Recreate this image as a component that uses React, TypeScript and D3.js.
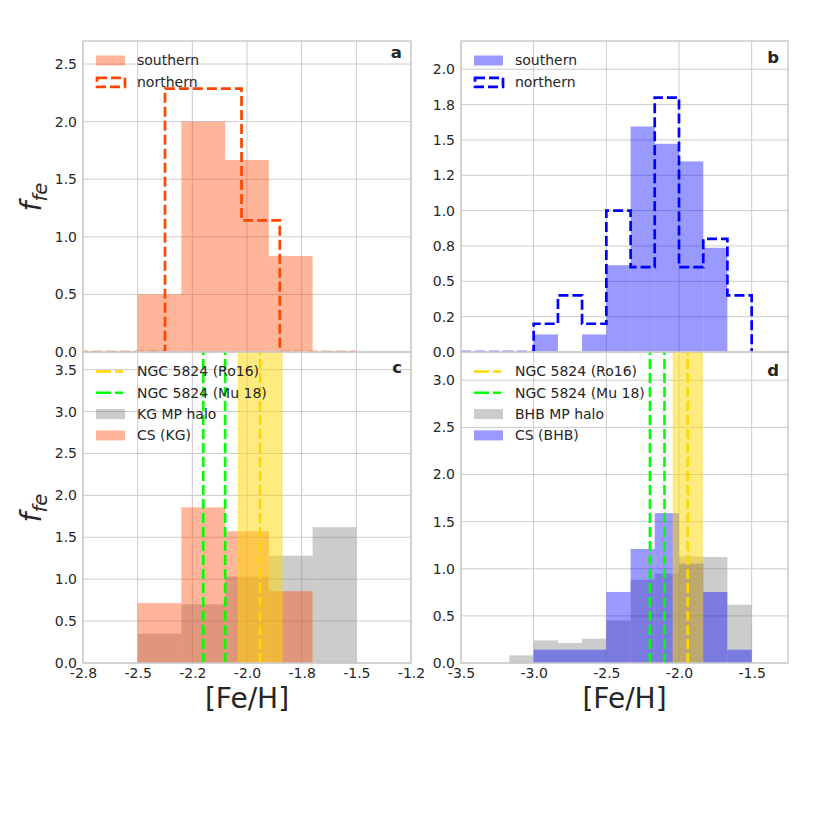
import { useEffect, useRef } from 'react';
import * as d3 from 'd3';

// --- KG (panels a, c) ---
const KG_EDGES = [-2.5, -2.3, -2.1, -1.9, -1.7, -1.5];
const SOUTHERN_KG = [0.5, 2.0, 1.667, 0.833, 0];
const CS_KG = [0.714, 1.857, 1.571, 0.857, 0];
const HALO_KG = [0.35, 0.7, 1.03, 1.28, 1.62];
const NORTHERN_KG_EDGES = [-2.9, -2.725, -2.55, -2.375, -2.2, -2.025, -1.85, -1.675, -1.5];
const NORTHERN_KG = [0, 0, 0, 2.286, 2.286, 1.143, 0, 0];

// --- BHB (panels b, d) ---
const BHB_EDGES = [-3.5, -3.333, -3.167, -3.0, -2.833, -2.667, -2.5, -2.333, -2.167, -2.0, -1.833, -1.667, -1.5];
const SOUTHERN_BHB = [0, 0, 0, 0.124, 0, 0.124, 0.614, 1.595, 1.473, 1.348, 0.737, 0];
const NORTHERN_BHB = [0, 0, 0, 0.2, 0.4, 0.2, 1.0, 0.6, 1.8, 0.6, 0.8, 0.4];
const CS_BHB = [0, 0, 0, 0.141, 0.141, 0.141, 0.754, 1.21, 1.59, 1.054, 0.754, 0.141];
const HALO_BHB = [0, 0, 0.081, 0.24, 0.212, 0.258, 0.452, 0.884, 0.948, 1.132, 1.125, 0.619];

// NGC 5824 metallicities
const RO16 = -1.94;
const RO16_ERR = 0.1;
const MU18 = [-2.2, -2.1];

// ticks
const KG_X_TICKS = [-2.75, -2.5, -2.25, -2.0, -1.75, -1.5, -1.25];
const KG_X_LABELS = ['-2.8', '-2.5', '-2.2', '-2.0', '-1.8', '-1.5', '-1.2'];
const BHB_X_TICKS = [-3.5, -3.0, -2.5, -2.0, -1.5];
const BHB_X_LABELS = ['-3.5', '-3.0', '-2.5', '-2.0', '-1.5'];
const A_Y_TICKS = [0, 0.5, 1.0, 1.5, 2.0, 2.5];
const A_Y_LABELS = ['0.0', '0.5', '1.0', '1.5', '2.0', '2.5'];
const B_Y_TICKS = [0, 0.25, 0.5, 0.75, 1.0, 1.25, 1.5, 1.75, 2.0];
const B_Y_LABELS = ['0.0', '0.2', '0.5', '0.8', '1.0', '1.2', '1.5', '1.8', '2.0'];
const C_Y_TICKS = [0, 0.5, 1.0, 1.5, 2.0, 2.5, 3.0, 3.5];
const C_Y_LABELS = ['0.0', '0.5', '1.0', '1.5', '2.0', '2.5', '3.0', '3.5'];
const D_Y_TICKS = [0, 0.5, 1.0, 1.5, 2.0, 2.5, 3.0];
const D_Y_LABELS = ['0.0', '0.5', '1.0', '1.5', '2.0', '2.5', '3.0'];

const FONT = '"DejaVu Sans", sans-serif';
const TEXT = '#262626';
const GRID = '#cccccc';
const ORANGE = 'rgba(255,69,0,0.4)';
const BLUE = 'rgba(0,0,255,0.4)';
const GREY = 'rgba(128,128,128,0.4)';
const GOLD_BAND = 'rgba(255,215,0,0.5)';
const TICK_SIZE = 14;

type Scale = d3.ScaleLinear<number, number>;
type G = d3.Selection<SVGGElement, unknown, null, undefined>;

interface LegendItem {
  kind: 'patch' | 'step' | 'line';
  color: string;
  label: string;
}

interface Panel {
  id: string;
  left: number;
  top: number;
  width: number;
  height: number;
  xDomain: [number, number];
  yMax: number;
  xTicks: number[];
  xLabels: string[] | null;
  yTicks: number[];
  yLabels: string[];
  letter: string;
  letterY: number;
  legend: LegendItem[];
  draw: (g: G, x: Scale, y: Scale) => void;
}

function bars(g: G, x: Scale, y: Scale, edges: number[], vals: number[], fill: string) {
  const bins = vals.map((v, i) => ({ x0: edges[i], x1: edges[i + 1], v })).filter((b) => b.v > 0);
  g.append('g')
    .selectAll('rect')
    .data(bins)
    .join('rect')
    .attr('x', (d) => x(d.x0))
    .attr('y', (d) => y(d.v))
    .attr('width', (d) => x(d.x1) - x(d.x0))
    .attr('height', (d) => y(0) - y(d.v))
    .attr('fill', fill);
}

function step(g: G, x: Scale, y: Scale, edges: number[], vals: number[], stroke: string) {
  const pts: [number, number][] = [[edges[0], 0]];
  vals.forEach((v, i) => {
    pts.push([edges[i], v]);
    pts.push([edges[i + 1], v]);
  });
  pts.push([edges[edges.length - 1], 0]);
  const line = d3
    .line<[number, number]>()
    .x((d) => x(d[0]))
    .y((d) => y(d[1]));
  g.append('path')
    .attr('d', line(pts))
    .attr('fill', 'none')
    .attr('stroke', stroke)
    .attr('stroke-width', 2.7)
    .attr('stroke-dasharray', '10,4');
}

function ngc(g: G, x: Scale, y: Scale) {
  g.append('rect')
    .attr('x', x(RO16 - RO16_ERR))
    .attr('y', y.range()[1])
    .attr('width', x(RO16 + RO16_ERR) - x(RO16 - RO16_ERR))
    .attr('height', y.range()[0] - y.range()[1])
    .attr('fill', GOLD_BAND)
    .attr('stroke', GOLD_BAND)
    .attr('stroke-width', 1);
  const vline = (v: number, color: string) =>
    g.append('line')
      .attr('x1', x(v))
      .attr('x2', x(v))
      .attr('y1', y.range()[0])
      .attr('y2', y.range()[1])
      .attr('stroke', color)
      .attr('stroke-width', 2.6)
      .attr('stroke-dasharray', '10,4');
  MU18.forEach((v) => vline(v, '#00ff00'));
  vline(RO16, '#ffd700');
}

const PANELS: Panel[] = [
  {
    id: 'a', left: 83, top: 41, width: 328, height: 311,
    xDomain: [-2.75, -1.25], yMax: 2.7,
    xTicks: KG_X_TICKS, xLabels: null, yTicks: A_Y_TICKS, yLabels: A_Y_LABELS,
    letter: 'a', letterY: 57.5,
    legend: [
      { kind: 'patch', color: ORANGE, label: 'southern' },
      { kind: 'step', color: '#ff4500', label: 'northern' },
    ],
    draw: (g, x, y) => {
      bars(g, x, y, KG_EDGES, SOUTHERN_KG, ORANGE);
      step(g, x, y, NORTHERN_KG_EDGES, NORTHERN_KG, '#ff4500');
    },
  },
  {
    id: 'b', left: 461, top: 41, width: 327, height: 311,
    xDomain: [-3.5, -1.25], yMax: 2.2,
    xTicks: BHB_X_TICKS, xLabels: null, yTicks: B_Y_TICKS, yLabels: B_Y_LABELS,
    letter: 'b', letterY: 62.5,
    legend: [
      { kind: 'patch', color: BLUE, label: 'southern' },
      { kind: 'step', color: '#0000ff', label: 'northern' },
    ],
    draw: (g, x, y) => {
      bars(g, x, y, BHB_EDGES, SOUTHERN_BHB, BLUE);
      step(g, x, y, BHB_EDGES, NORTHERN_BHB, '#0000ff');
    },
  },
  {
    id: 'c', left: 83, top: 352, width: 328, height: 311,
    xDomain: [-2.75, -1.25], yMax: 3.71,
    xTicks: KG_X_TICKS, xLabels: KG_X_LABELS, yTicks: C_Y_TICKS, yLabels: C_Y_LABELS,
    letter: 'c', letterY: 373,
    legend: [
      { kind: 'line', color: '#ffd700', label: 'NGC 5824 (Ro16)' },
      { kind: 'line', color: '#00ff00', label: 'NGC 5824 (Mu 18)' },
      { kind: 'patch', color: GREY, label: 'KG MP halo' },
      { kind: 'patch', color: ORANGE, label: 'CS (KG)' },
    ],
    draw: (g, x, y) => {
      bars(g, x, y, KG_EDGES, HALO_KG, GREY);
      bars(g, x, y, KG_EDGES, CS_KG, ORANGE);
      ngc(g, x, y);
    },
  },
  {
    id: 'd', left: 461, top: 352, width: 327, height: 311,
    xDomain: [-3.5, -1.25], yMax: 3.3,
    xTicks: BHB_X_TICKS, xLabels: BHB_X_LABELS, yTicks: D_Y_TICKS, yLabels: D_Y_LABELS,
    letter: 'd', letterY: 375.5,
    legend: [
      { kind: 'line', color: '#ffd700', label: 'NGC 5824 (Ro16)' },
      { kind: 'line', color: '#00ff00', label: 'NGC 5824 (Mu 18)' },
      { kind: 'patch', color: GREY, label: 'BHB MP halo' },
      { kind: 'patch', color: BLUE, label: 'CS (BHB)' },
    ],
    draw: (g, x, y) => {
      bars(g, x, y, BHB_EDGES, HALO_BHB, GREY);
      bars(g, x, y, BHB_EDGES, CS_BHB, BLUE);
      ngc(g, x, y);
    },
  },
];

function drawPanel(svg: d3.Selection<SVGSVGElement, unknown, null, undefined>, p: Panel) {
  const x = d3.scaleLinear().domain(p.xDomain).range([p.left, p.left + p.width]);
  const y = d3.scaleLinear().domain([0, p.yMax]).range([p.top + p.height, p.top]);

  svg.append('clipPath')
    .attr('id', `clip-${p.id}`)
    .append('rect')
    .attr('x', p.left)
    .attr('y', p.top)
    .attr('width', p.width)
    .attr('height', p.height);

  const root = svg.append('g');

  // grid
  const grid = root.append('g').attr('stroke', GRID).attr('stroke-width', 1);
  p.xTicks.forEach((t) =>
    grid.append('line').attr('x1', x(t)).attr('x2', x(t)).attr('y1', p.top).attr('y2', p.top + p.height),
  );
  p.yTicks.forEach((t) =>
    grid.append('line').attr('x1', p.left).attr('x2', p.left + p.width).attr('y1', y(t)).attr('y2', y(t)),
  );

  const plot = root.append('g').attr('clip-path', `url(#clip-${p.id})`) as unknown as G;
  p.draw(plot, x, y);

  // frame
  root.append('rect')
    .attr('x', p.left)
    .attr('y', p.top)
    .attr('width', p.width)
    .attr('height', p.height)
    .attr('fill', 'none')
    .attr('stroke', GRID)
    .attr('stroke-width', 1.5);

  // y axis labels
  const yAxis = d3
    .axisLeft(y)
    .tickValues(p.yTicks)
    .tickSize(0)
    .tickPadding(6)
    .tickFormat((_d, i) => p.yLabels[i]);
  const ya = root.append('g').attr('transform', `translate(${p.left},0)`).call(yAxis);
  ya.select('.domain').remove();
  ya.selectAll('text').attr('font-family', FONT).attr('font-size', TICK_SIZE).attr('fill', TEXT);

  if (p.xLabels) {
    const labels = p.xLabels;
    const xAxis = d3
      .axisBottom(x)
      .tickValues(p.xTicks)
      .tickSize(0)
      .tickPadding(5)
      .tickFormat((_d, i) => labels[i]);
    const xa = root.append('g').attr('transform', `translate(0,${p.top + p.height})`).call(xAxis);
    xa.select('.domain').remove();
    xa.selectAll('text').attr('font-family', FONT).attr('font-size', TICK_SIZE).attr('fill', TEXT);

    root.append('text')
      .attr('x', p.left + p.width / 2)
      .attr('y', 708)
      .attr('text-anchor', 'middle')
      .attr('font-family', FONT)
      .attr('font-size', 28)
      .attr('fill', TEXT)
      .text('[Fe/H]');
  }

  // panel letter
  root.append('text')
    .attr('x', p.left + p.width - 9)
    .attr('y', p.letterY)
    .attr('text-anchor', 'end')
    .attr('font-family', FONT)
    .attr('font-weight', 'bold')
    .attr('font-size', 16.5)
    .attr('fill', TEXT)
    .text(p.letter);

  // legend
  const lg = root.append('g');
  p.legend.forEach((item, i) => {
    const cy = p.top + 19.5 + i * 21.3;
    const lx = p.left + 13;
    if (item.kind === 'patch') {
      lg.append('rect').attr('x', lx).attr('y', cy - 5).attr('width', 29).attr('height', 10).attr('fill', item.color);
    } else if (item.kind === 'step') {
      lg.append('rect')
        .attr('x', lx + 1)
        .attr('y', cy - 4)
        .attr('width', 28)
        .attr('height', 9)
        .attr('fill', 'none')
        .attr('stroke', item.color)
        .attr('stroke-width', 2.7)
        .attr('stroke-dasharray', '10,4');
    } else {
      lg.append('line')
        .attr('x1', lx)
        .attr('x2', lx + 27)
        .attr('y1', cy)
        .attr('y2', cy)
        .attr('stroke', item.color)
        .attr('stroke-width', 2.6)
        .attr('stroke-dasharray', '15,4');
    }
    lg.append('text')
      .attr('x', p.left + 54)
      .attr('y', cy)
      .attr('dy', '0.35em')
      .attr('font-family', FONT)
      .attr('font-size', TICK_SIZE)
      .attr('fill', TEXT)
      .text(item.label);
  });
}

function drawYLabel(svg: d3.Selection<SVGSVGElement, unknown, null, undefined>, cy: number) {
  const t = svg.append('text')
    .attr('transform', `translate(41,${cy}) rotate(-90)`)
    .attr('text-anchor', 'middle')
    .attr('font-family', FONT)
    .attr('font-style', 'italic')
    .attr('font-size', 28)
    .attr('fill', TEXT);
  t.append('tspan').text('f');
  t.append('tspan').attr('font-size', 19.6).attr('dy', 6).text('fe');
}

export default function App() {
  const svgRef = useRef<SVGSVGElement>(null);

  useEffect(() => {
    if (!svgRef.current) return;
    const svg = d3.select(svgRef.current);
    svg.selectAll('*').remove();
    svg.append('rect').attr('width', 830).attr('height', 830).attr('fill', '#ffffff');
    PANELS.forEach((p) => drawPanel(svg, p));
    drawYLabel(svg, 197);
    drawYLabel(svg, 508);
  }, []);

  return (
    <svg
      ref={svgRef}
      width={830}
      height={830}
      viewBox="0 0 830 830"
      style={{ position: 'absolute', left: 0, top: 0 }}
    />
  );
}
